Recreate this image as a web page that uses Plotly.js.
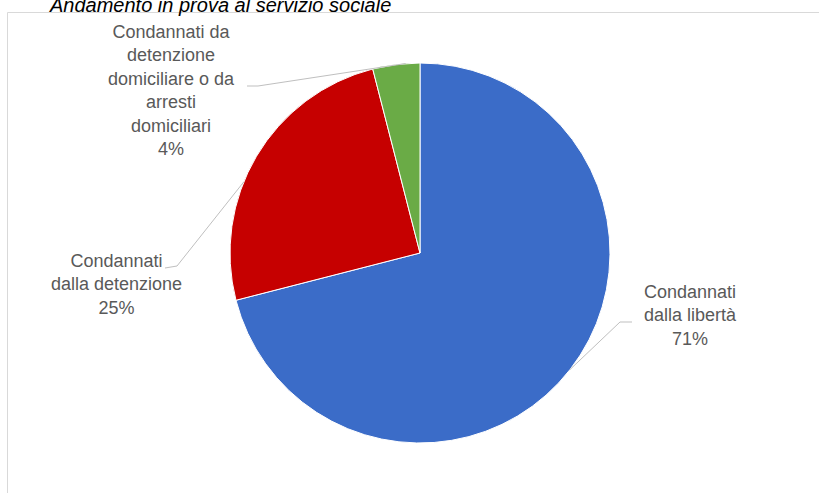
<!DOCTYPE html>
<html>
<head>
<meta charset="utf-8">
<script src="https://cdn.plot.ly/plotly-3.0.1.min.js"></script>
<style>html,body{margin:0;padding:0;background:#fff;}#chart{width:819px;height:493px;}</style>
</head>
<body>
<div id="chart"></div>
<script>
// ---- data ----
const chartTitle = "Andamento in prova al servizio sociale";
const categories = ["Condannati dalla libertà", "Condannati dalla detenzione", "Condannati da detenzione domiciliare o da arresti domiciliari"];
const labelLines = [
  "Condannati<br>dalla libertà",
  "Condannati<br>dalla detenzione",
  "Condannati da<br>detenzione<br>domiciliare o da<br>arresti<br>domiciliari"
];
const values = [71, 25, 4];
const sliceColors = ["#3b6cc8", "#c60000", "#6aab46"];

// ---- layout geometry ----
const W = 819, H = 493;
const cx = 420, cy = 253, R = 190;
const labelPos = [[690, 315], [116, 284], [171, 91]];     // label block centres (px)
const labelAnchor = [[632, 322], [165, 268], [247, 86]];  // leader line start (px)
const elbow = [[620, 322], [177, 266], [258, 86]];
const leaderShift = [0, -0.15, 0.05];                     // radians, nudge of leader end along rim

function px(x, y) { return [x / W, 1 - y / H]; }

const total = values.reduce((a, b) => a + b, 0);
let cum = 0;
const annotations = [];
const shapes = [];
values.forEach((v, i) => {
  const mid = (cum + v / 2) / total * 2 * Math.PI + leaderShift[i]; // clockwise from 12 o'clock
  cum += v;
  const ex = cx + R * Math.sin(mid), ey = cy - R * Math.cos(mid);
  const pct = Math.round(v / total * 100) + "%";
  const p = px(labelPos[i][0], labelPos[i][1]);
  annotations.push({
    x: p[0], y: p[1], xref: "paper", yref: "paper", xanchor: "center", yanchor: "middle",
    text: labelLines[i] + "<br>" + pct, showarrow: false, align: "center",
    font: {family: "Liberation Sans, Arial, sans-serif", size: 18, color: "#595959"}
  });
  const a = px(labelAnchor[i][0], labelAnchor[i][1]);
  const b = px(elbow[i][0], elbow[i][1]);
  const e = px(ex, ey);
  shapes.push({type: "path", xref: "paper", yref: "paper",
    path: `M ${a[0]} ${a[1]} L ${b[0]} ${b[1]} L ${e[0]} ${e[1]}`,
    line: {color: "#bfbfbf", width: 1}});
});

// chart area border
const bTL = px(7.5, 12.5), bBR = px(830, 500);
shapes.unshift({type: "rect", xref: "paper", yref: "paper", x0: bTL[0], y0: bBR[1], x1: bBR[0], y1: bTL[1],
  line: {color: "#d9d9d9", width: 1}, fillcolor: "rgba(0,0,0,0)", layer: "below"});

const tp = px(47, 18);
annotations.push({
  x: tp[0], y: tp[1], xref: "paper", yref: "paper", xanchor: "left", yanchor: "bottom",
  text: chartTitle, showarrow: false,
  font: {family: "Liberation Sans, Arial, sans-serif", size: 20, color: "#000", style: "italic"}
});

const trace = {
  type: "pie",
  labels: categories,
  values: values,
  sort: false,
  direction: "clockwise",
  rotation: 0,
  textinfo: "none",
  hoverinfo: "label+percent",
  marker: {colors: sliceColors, line: {color: "#ffffff", width: 1}},
  domain: {x: [(cx - R) / W, (cx + R) / W], y: [1 - (cy + R) / H, 1 - (cy - R) / H]},
  showlegend: false
};

Plotly.newPlot("chart", [trace], {
  width: W, height: H,
  margin: {l: 0, r: 0, t: 0, b: 0},
  paper_bgcolor: "#ffffff",
  showlegend: false,
  annotations: annotations,
  shapes: shapes
}, {displayModeBar: false, staticPlot: true});
</script>
</body>
</html>
